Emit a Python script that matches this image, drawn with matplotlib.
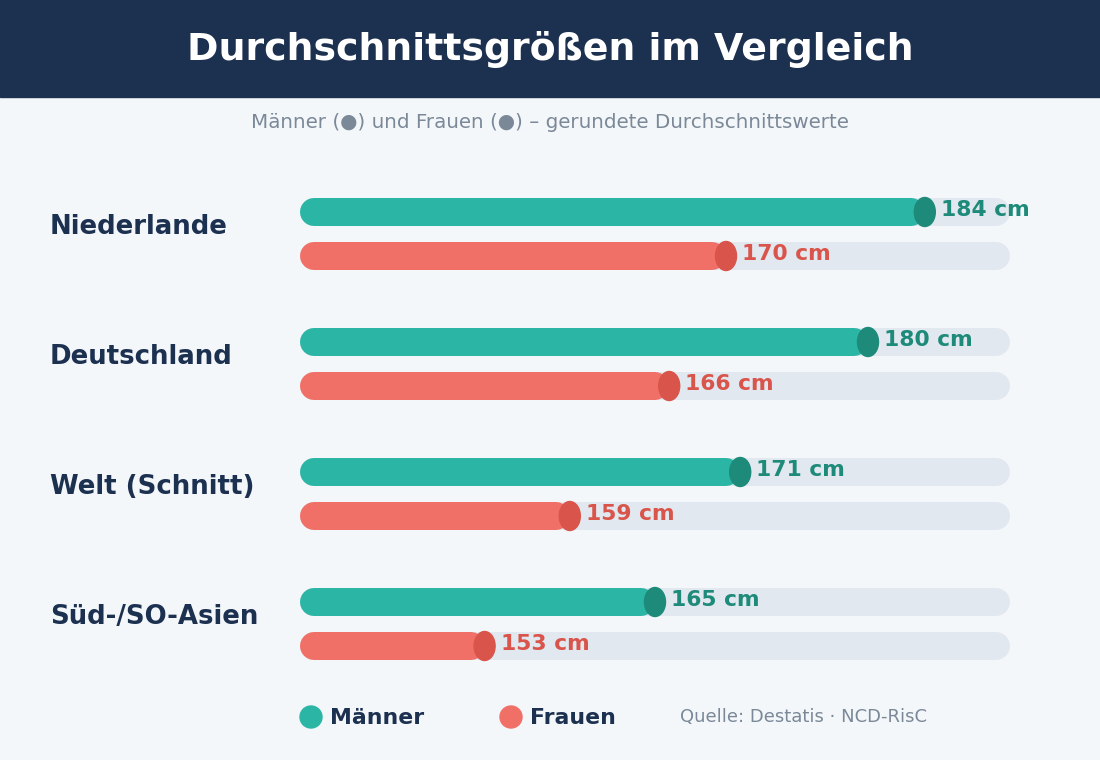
import matplotlib.pyplot as plt
from matplotlib.patches import Ellipse, Rectangle, Circle

plt.rcParams['font.family'] = ['DejaVu Sans']

regions = ['Niederlande', 'Deutschland', 'Welt (Schnitt)', 'Süd-/SO-Asien']
men = [184, 180, 171, 165]
women = [170, 166, 159, 153]
x_min, x_max = 140, 190

bg = '#f4f7fa'
navy = '#1c3050'
m_col, m_dark = '#2bb5a5', '#1e8a7a'
w_col, w_dark = '#f07068', '#d9544a'
track = '#e1e8ef'
grey = '#7a8898'

fig = plt.figure(figsize=(11, 7.6), dpi=100, facecolor=bg)

# overlay in pixel coords for header / labels / legend
ov = fig.add_axes([0, 0, 1, 1])
ov.set_xlim(0, 1100)
ov.set_ylim(760, 0)
ov.axis('off')
ov.add_patch(Rectangle((0, 0), 1100, 97, color=navy))
ov.text(550, 50, 'Durchschnittsgrößen im Vergleich', color='white', fontsize=27.3,
        fontweight='bold', ha='center', va='center')
ov.text(550, 123, 'Männer (●) und Frauen (●) – gerundete Durchschnittswerte', color=grey,
        fontsize=14.3, ha='center', va='center')

# bar axes: pixel x 300..1010, pixel y 160..680
ax = fig.add_axes([300 / 1100, (760 - 680) / 760, 710 / 1100, 520 / 760])
ax.set_xlim(x_min, x_max)
ax.set_ylim(680, 160)
ax.axis('off')
px = (x_max - x_min) / 710  # data units per pixel
lw = 28 * 0.72
cap = 14 * px

for i, name in enumerate(regions):
    ym = 212 + 130 * i
    yw = ym + 44
    ov.text(50, ym + 15, name, color=navy, fontsize=18.7, fontweight='bold', va='center')
    for y, v, c, d in [(ym, men[i], m_col, m_dark), (yw, women[i], w_col, w_dark)]:
        ax.plot([x_min + cap, x_max - cap], [y, y], color=track, lw=lw, solid_capstyle='round')
        ax.plot([x_min + cap, v - cap], [y, y], color=c, lw=lw, solid_capstyle='round')
        ax.add_patch(Ellipse((v, y), 21 * px, 29, color=d, zorder=3))
        ax.text(v + 16 * px, y - 2, f'{v} cm', color=d, fontsize=15.7, fontweight='bold', va='center')

ov.add_patch(Circle((311, 717), 11, color=m_col))
ov.text(330, 718, 'Männer', color=navy, fontsize=15.8, fontweight='bold', va='center')
ov.add_patch(Circle((511, 717), 11, color=w_col))
ov.text(530, 718, 'Frauen', color=navy, fontsize=15.8, fontweight='bold', va='center')
ov.text(680, 717, 'Quelle: Destatis · NCD-RisC', color=grey, fontsize=13, va='center')

fig.savefig('out.png', dpi=100, facecolor=bg)
